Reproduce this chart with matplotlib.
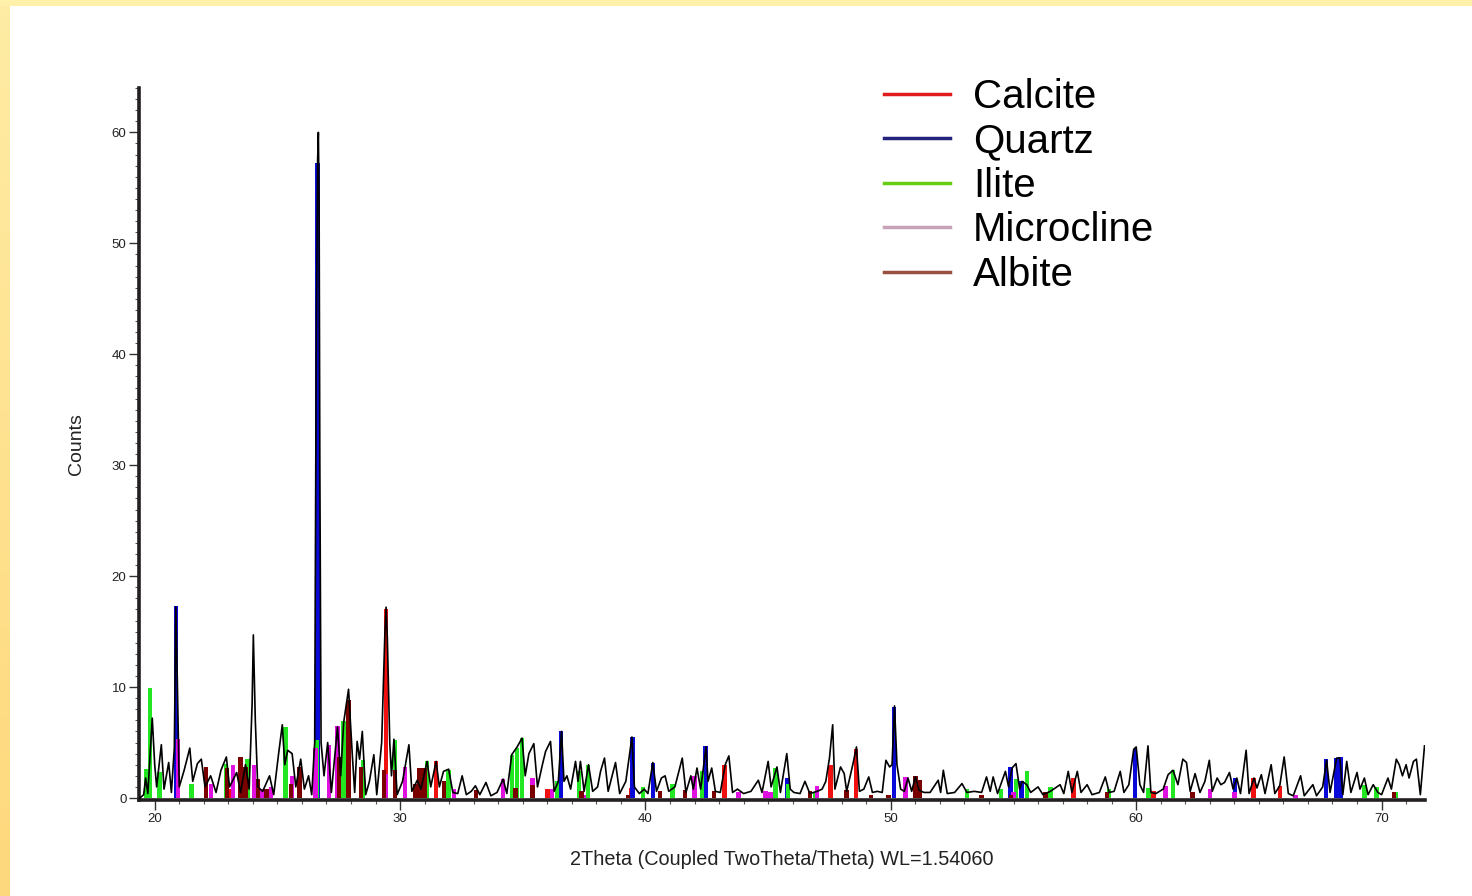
"""
plot.py - XRD pattern with phase reference peaks (Calcite, Quartz, Illite, Microcline, Albite)
"""

import matplotlib
matplotlib.use("Agg")
import matplotlib.pyplot as plt
import numpy as np
from matplotlib.lines import Line2D
from matplotlib.ticker import MultipleLocator

plt.rcParams['font.family'] = ['Liberation Sans', 'DejaVu Sans']

two_theta = [
    19.40, 19.55, 19.63, 19.72, 19.90, 20.00, 20.08, 20.27, 20.38, 20.57, 20.68, 20.80, 20.86, 20.92,
    21.00, 21.20, 21.43, 21.55, 21.74, 21.90, 22.05, 22.28, 22.50, 22.70, 22.92, 23.05, 23.34, 23.50,
    23.70, 23.85, 23.97, 24.02, 24.10, 24.20, 24.40, 24.68, 24.85, 25.05, 25.20, 25.30, 25.42, 25.60,
    25.75, 25.95, 26.10, 26.27, 26.40, 26.52, 26.58, 26.64, 26.67, 26.70, 26.73, 26.78, 26.90, 27.05,
    27.20, 27.45, 27.58, 27.70, 27.90, 28.05, 28.15, 28.25, 28.35, 28.46, 28.60, 28.75, 28.93, 29.05,
    29.25, 29.38, 29.43, 29.48, 29.58, 29.65, 29.75, 29.88, 30.10, 30.36, 30.48, 30.70, 30.85, 31.10,
    31.25, 31.47, 31.60, 31.77, 31.98, 32.15, 32.35, 32.53, 32.70, 32.90, 33.07, 33.25, 33.50, 33.70,
    33.95, 34.20, 34.35, 34.55, 34.77, 34.97, 35.10, 35.25, 35.45, 35.60, 35.80, 35.93, 36.13, 36.28,
    36.45, 36.58, 36.68, 36.80, 36.95, 37.15, 37.25, 37.35, 37.50, 37.68, 37.85, 38.05, 38.17, 38.33,
    38.48, 38.78, 38.95, 39.20, 39.45, 39.55, 39.75, 39.95, 40.10, 40.30, 40.45, 40.65, 40.80, 40.95,
    41.20, 41.50, 41.65, 41.85, 41.95, 42.10, 42.25, 42.47, 42.55, 42.70, 42.85, 43.05, 43.25, 43.40,
    43.55, 43.75, 44.00, 44.30, 44.60, 44.75, 45.00, 45.12, 45.36, 45.50, 45.76, 45.90, 46.05, 46.30,
    46.50, 46.70, 47.00, 47.20, 47.35, 47.50, 47.63, 47.72, 47.95, 48.10, 48.20, 48.45, 48.60, 48.72,
    48.90, 49.10, 49.25, 49.45, 49.65, 49.80, 49.95, 50.05, 50.15, 50.25, 50.40, 50.55, 50.70, 50.85,
    51.00, 51.15, 51.35, 51.60, 51.93, 52.03, 52.14, 52.30, 52.60, 52.90, 53.10, 53.40, 53.70, 53.90,
    54.05, 54.17, 54.35, 54.67, 54.80, 54.94, 55.10, 55.25, 55.35, 55.54, 55.70, 56.00, 56.20, 56.50,
    56.90, 57.05, 57.23, 57.38, 57.60, 57.75, 58.00, 58.20, 58.50, 58.74, 58.90, 59.10, 59.35, 59.50,
    59.70, 59.90, 60.00, 60.15, 60.30, 60.48, 60.60, 60.80, 61.10, 61.30, 61.50, 61.70, 61.90, 62.05,
    62.20, 62.40, 62.60, 62.80, 62.98, 63.10, 63.30, 63.45, 63.60, 63.80, 63.95, 64.10, 64.25, 64.48,
    64.60, 64.80, 64.92, 65.10, 65.25, 65.50, 65.65, 65.85, 66.03, 66.20, 66.40, 66.70, 66.85, 67.20,
    67.35, 67.60, 67.76, 67.90, 68.17, 68.30, 68.42, 68.58, 68.75, 69.00, 69.12, 69.30, 69.45, 69.66,
    69.85, 70.00, 70.26, 70.40, 70.60, 70.72, 70.85, 71.00, 71.12, 71.30, 71.42, 71.58, 71.75,
]
counts = [
    0.0, 0.3, 1.8, 0.4, 7.2, 3.0, 1.0, 4.8, 0.8, 3.2, 0.5, 4.5, 17.2, 10.8,
    1.0, 2.5, 4.5, 1.5, 3.1, 3.5, 1.0, 2.0, 0.5, 2.5, 3.7, 1.0, 2.3, 0.5,
    3.0, 0.8, 8.5, 14.7, 7.0, 1.0, 0.6, 2.0, 0.3, 4.0, 6.6, 3.0, 4.3, 4.0,
    1.0, 3.5, 0.8, 2.0, 0.3, 5.0, 39.0, 57.5, 60.0, 53.5, 30.0, 5.0, 2.0, 5.0,
    0.5, 6.4, 2.0, 6.8, 9.8, 4.0, 0.5, 5.1, 3.5, 6.0, 0.3, 1.5, 3.9, 0.3,
    5.0, 14.8, 17.2, 14.5, 5.0, 2.0, 5.3, 0.3, 1.5, 4.8, 0.6, 1.6, 0.8, 3.3,
    1.0, 3.3, 1.0, 2.4, 2.6, 0.5, 0.4, 2.0, 0.3, 0.6, 1.1, 0.3, 1.4, 0.2,
    0.5, 1.7, 0.4, 3.9, 4.6, 5.4, 2.0, 4.0, 4.9, 1.0, 3.0, 4.2, 5.1, 0.6,
    1.5, 6.0, 1.5, 2.0, 0.8, 3.3, 1.5, 3.3, 0.6, 3.0, 0.6, 1.0, 2.4, 3.6,
    0.6, 3.2, 0.4, 1.5, 5.5, 1.0, 0.4, 0.8, 0.4, 3.2, 0.6, 1.8, 2.0, 0.6,
    1.0, 3.6, 0.5, 2.0, 0.8, 2.7, 0.8, 4.6, 1.5, 2.7, 0.6, 0.5, 3.0, 3.8,
    0.5, 0.8, 0.4, 0.6, 1.6, 0.5, 3.3, 1.0, 2.8, 0.5, 4.0, 0.8, 0.5, 0.4,
    1.5, 0.4, 0.6, 0.8, 1.5, 3.6, 6.6, 0.8, 2.8, 2.2, 0.6, 3.0, 4.6, 0.6,
    0.8, 1.9, 0.5, 0.6, 0.5, 3.4, 2.8, 3.0, 8.3, 3.0, 0.8, 0.6, 1.8, 0.6,
    1.9, 0.7, 0.5, 0.5, 1.6, 0.5, 2.5, 0.4, 0.5, 1.3, 0.5, 0.6, 0.5, 1.9,
    0.6, 1.9, 0.4, 2.4, 1.0, 2.7, 3.1, 0.8, 1.5, 1.2, 0.5, 1.0, 0.3, 0.6,
    1.2, 0.4, 2.4, 0.5, 2.4, 0.5, 1.2, 0.3, 0.5, 1.9, 0.5, 0.6, 2.4, 0.5,
    1.2, 4.4, 4.6, 1.2, 0.5, 4.7, 0.5, 0.4, 0.8, 2.1, 2.5, 1.2, 3.5, 3.2,
    0.6, 2.2, 0.5, 1.5, 3.4, 0.6, 1.8, 1.2, 1.4, 2.3, 0.8, 1.8, 0.4, 4.3,
    0.4, 1.8, 0.9, 2.1, 0.4, 3.0, 0.4, 1.1, 3.7, 0.4, 0.2, 2.0, 0.2, 1.2,
    0.2, 1.0, 3.4, 0.5, 3.6, 3.6, 0.3, 3.3, 0.5, 2.3, 0.8, 1.8, 0.3, 1.2,
    0.5, 0.3, 1.8, 0.8, 3.5, 3.0, 2.0, 3.0, 1.8, 3.3, 3.5, 0.3, 4.7,
]

# phase reference peaks: positions (2theta) and heights (counts)
calcite_pos = [23.05, 29.43, 31.47, 36.00, 39.40, 43.22, 47.55, 48.58, 57.45, 60.70, 64.78, 65.85]
calcite_h = [0.8, 17.0, 3.3, 0.8, 0.9, 3.0, 3.0, 4.4, 1.8, 0.6, 1.8, 1.1]

quartz_pos = [20.86, 26.64, 36.55, 39.47, 40.30, 42.45, 45.78, 50.14, 54.87, 55.32, 59.96, 64.03,
              67.74, 68.14, 68.32]
quartz_h = [17.3, 57.2, 6.0, 5.5, 3.2, 4.7, 1.8, 8.2, 2.8, 1.5, 4.4, 1.8, 3.5, 3.6, 3.7]

illite_pos = [19.66, 19.80, 20.20, 21.50, 22.90, 23.78, 25.33, 26.60, 27.70, 28.50, 29.80, 31.10,
              31.98, 34.55, 34.77, 34.97, 36.40, 37.30, 37.65, 39.90, 41.10, 42.30, 45.30, 45.80,
              46.90, 53.10, 54.50, 55.10, 55.55, 56.50, 58.90, 60.50, 61.50, 69.30, 69.80, 70.60]
illite_h = [2.6, 9.9, 2.3, 1.3, 3.1, 3.5, 6.4, 5.2, 6.9, 3.4, 5.2, 3.3,
            2.5, 3.9, 4.5, 5.4, 1.5, 2.4, 3.0, 1.0, 1.3, 2.4, 2.7, 1.3,
            0.5, 0.8, 0.8, 1.7, 2.4, 1.0, 0.8, 0.9, 2.5, 1.2, 1.0, 0.5]

microcline_pos = [20.95, 22.30, 23.20, 24.05, 24.40, 24.75, 25.60, 26.55, 27.10, 27.45, 29.40, 30.20,
                  30.70, 32.20, 34.20, 35.40, 36.20, 37.50, 42.00, 43.80, 44.90, 45.10, 47.00, 50.60,
                  55.00, 61.20, 63.00, 64.00, 66.50]
microcline_h = [5.3, 1.3, 3.0, 3.0, 0.8, 1.0, 2.0, 4.5, 4.8, 6.5, 2.2, 2.8,
                1.3, 0.8, 1.7, 1.8, 0.8, 0.3, 2.0, 0.5, 0.6, 0.5, 1.1, 1.9,
                0.5, 1.1, 0.8, 0.5, 0.3]

albite_pos = [22.10, 22.95, 23.50, 23.70, 24.20, 24.55, 25.55, 25.90, 27.50, 27.90, 28.40, 29.35,
              29.80, 30.60, 30.80, 31.00, 31.80, 33.10, 34.70, 35.40, 37.40, 39.30, 40.60, 41.60,
              42.80, 46.70, 48.20, 49.20, 49.90, 51.00, 51.20, 53.70, 54.90, 56.30, 58.80, 62.30,
              70.50]
albite_h = [2.8, 2.7, 3.7, 2.8, 1.7, 0.8, 1.3, 2.8, 3.7, 8.8, 2.8, 2.5,
            2.5, 1.3, 2.7, 2.7, 1.5, 0.7, 0.9, 1.2, 0.6, 0.3, 0.6, 0.7,
            0.6, 0.6, 0.7, 0.3, 0.3, 2.0, 1.6, 0.3, 0.3, 0.5, 0.5, 0.5,
            0.5]

phase_names = ["Calcite", "Quartz", "Ilite", "Microcline", "Albite"]
legend_colors = ["#e01b1b", "#23237e", "#66cc14", "#c8a2b8", "#9a5040"]
bar_colors = ["#f01010", "#0a0ad8", "#22e622", "#e010e0", "#7a0000"]

fig = plt.figure(figsize=(14.72, 8.96), dpi=100)
fig.patch.set_facecolor("white")

# yellow frame strips on the left and top edge
frame_left = fig.add_axes([0, 0, 10 / 1472, 1])
frame_left.imshow(np.linspace(0, 1, 50).reshape(-1, 1), aspect="auto",
                  cmap=matplotlib.colors.LinearSegmentedColormap.from_list("fr", ["#ffeca4", "#fed87c"]))
frame_left.axis("off")
frame_top = fig.add_axes([0, 1 - 6 / 896, 1, 6 / 896])
frame_top.set_facecolor("#fff0aa")
frame_top.set_xticks([])
frame_top.set_yticks([])
for s in frame_top.spines.values():
    s.set_visible(False)

ax = fig.add_axes([139 / 1472, 1 - 800 / 896, (1425 - 139) / 1472, (800 - 88) / 896])

phases = [
    (calcite_pos, calcite_h),
    (quartz_pos, quartz_h),
    (illite_pos, illite_h),
    (microcline_pos, microcline_h),
    (albite_pos, albite_h),
]
for (pos, h), col in zip(phases, bar_colors):
    ax.bar(pos, h, width=0.18, color=col, linewidth=0, zorder=2)

ax.plot(two_theta, counts, color="black", linewidth=1.2, zorder=3)

ax.set_xlim(19.36, 71.77)
ax.set_ylim(-0.18, 64.0)

for side in ["top", "right"]:
    ax.spines[side].set_visible(False)
for side in ["left", "bottom"]:
    ax.spines[side].set_linewidth(2.6)
    ax.spines[side].set_color("#231f20")

ax.xaxis.set_major_locator(MultipleLocator(10))
ax.xaxis.set_minor_locator(MultipleLocator(1))
ax.yaxis.set_major_locator(MultipleLocator(10))
ax.yaxis.set_minor_locator(MultipleLocator(1))
ax.tick_params(which="major", length=7, width=1, color="#333333", labelsize=9.5, labelcolor="#222222", pad=2)
ax.tick_params(which="minor", length=3, width=0.8, color="#555555")

ax.set_xlabel("2Theta (Coupled TwoTheta/Theta) WL=1.54060", fontsize=14.3, labelpad=18, color="#222222")
ax.set_ylabel("Counts", fontsize=14, labelpad=19, color="#222222")

handles = [Line2D([0], [0], color=c, linewidth=2.5) for c in legend_colors]
ax.legend(handles, phase_names, loc="upper left", bbox_to_anchor=(884 / 1472, 1 - 78 / 896),
          bbox_transform=fig.transFigure, frameon=False, fontsize=29, handlelength=1.64,
          handletextpad=0.57, labelspacing=0.16, borderpad=0, borderaxespad=0, handleheight=0.7)

plt.savefig("out.png", dpi=100)
